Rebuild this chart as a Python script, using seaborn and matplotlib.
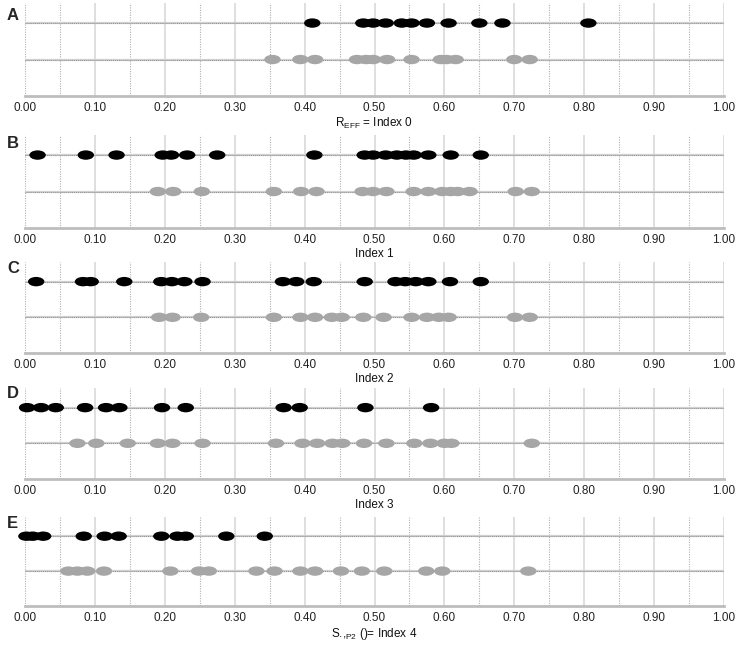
import numpy as np
import pandas as pd
import matplotlib
matplotlib.use("Agg")
import matplotlib.pyplot as plt
from matplotlib.path import Path
from matplotlib.transforms import Affine2D
import seaborn as sns

# values (position along 0..1)
a_black = [0.411, 0.484, 0.498, 0.516, 0.539, 0.553, 0.575, 0.606, 0.650, 0.683, 0.806]
a_gray = [0.354, 0.394, 0.415, 0.475, 0.488, 0.498, 0.518, 0.553, 0.595, 0.603, 0.616, 0.700, 0.722]

b_black = [0.018, 0.087, 0.131, 0.197, 0.209, 0.232, 0.275, 0.414, 0.486, 0.498, 0.516,
           0.532, 0.545, 0.556, 0.577, 0.609, 0.652]
b_gray = [0.190, 0.212, 0.253, 0.356, 0.395, 0.417, 0.483, 0.498, 0.517, 0.556, 0.577,
          0.597, 0.609, 0.619, 0.636, 0.702, 0.725]

c_black = [0.016, 0.083, 0.094, 0.142, 0.195, 0.210, 0.228, 0.254, 0.369, 0.388, 0.413,
           0.486, 0.530, 0.544, 0.559, 0.577, 0.608, 0.652]
c_gray = [0.192, 0.211, 0.252, 0.356, 0.394, 0.415, 0.439, 0.453, 0.484, 0.513, 0.553,
          0.575, 0.592, 0.606, 0.701, 0.722]

d_black = [0.003, 0.023, 0.044, 0.086, 0.116, 0.135, 0.196, 0.230, 0.370, 0.393, 0.487, 0.581]
d_gray = [0.075, 0.102, 0.147, 0.190, 0.211, 0.254, 0.359, 0.397, 0.418, 0.440, 0.454,
          0.485, 0.517, 0.557, 0.580, 0.600, 0.610, 0.725]

e_black = [0.002, 0.011, 0.026, 0.084, 0.114, 0.134, 0.195, 0.218, 0.230, 0.288, 0.343]
e_gray = [0.062, 0.075, 0.089, 0.113, 0.208, 0.249, 0.263, 0.331, 0.357, 0.394, 0.415,
          0.452, 0.482, 0.514, 0.574, 0.597, 0.720]

letters = ["A", "B", "C", "D", "E"]
xlabels = [r"$\mathregular{R_{EFF}}$ = Index 0", "Index 1", "Index 2", "Index 3",
           r"S.,$\mathregular{_{P2}}$ ()= Index 4"]
tick_vals = [0.0, 0.1, 0.2, 0.3, 0.4, 0.5, 0.6, 0.7, 0.8, 0.9, 1.0]
tick_labels = ["0.00", "0.10", "0.20", "0.30", "0.40", "0.50", "0.60", "0.70", "0.80", "0.90", "1.00"]

panels = [(a_black, a_gray), (b_black, b_gray), (c_black, c_gray), (d_black, d_gray), (e_black, e_gray)]

sns.set_style("white")
plt.rcParams["font.family"] = ["Liberation Sans", "DejaVu Sans"]

# flat ellipse marker
ellipse = Path.unit_circle().transformed(Affine2D().scale(1.75, 1.0))

fig = plt.figure(figsize=(7.39, 6.48), dpi=100)

# pixel rows of each panel (top of grid, bottom spine) and letter
tops_px = [3, 135, 262, 388, 517]
bots_px = [96, 228, 353, 479, 606]
letter_px = [15, 143, 268, 393, 523]

for i, (blk, gry) in enumerate(panels):
    b = 1 - bots_px[i] / 648
    h = (bots_px[i] - tops_px[i]) / 648
    ax = fig.add_axes([25 / 739, b, 699 / 739, h])

    df = pd.DataFrame({
        "x": blk + gry,
        "row": ["top"] * len(blk) + ["bottom"] * len(gry),
    })
    df["y"] = df["row"].map({"top": 2, "bottom": 1})

    # grid
    for v in tick_vals[1:]:
        ax.axvline(v, color="#d6d6d6", lw=1.1, zorder=0)
    for v in np.arange(0.05, 1.0, 0.1):
        ax.axvline(v, color="#b0b0b0", lw=0.8, ls=(0, (1, 1.2)), zorder=0)
    ax.axvline(0, color="#b0b0b0", lw=0.8, ls=(0, (1, 1.2)), zorder=0)
    for y in (1, 2):
        ax.axhline(y, color="#d0d0d0", lw=1.6, zorder=1)
        ax.axhline(y, color="#8e8e8e", lw=0.7, ls=(0, (1, 1)), zorder=2)

    sns.scatterplot(data=df, x="x", y="y", hue="row",
                    palette={"top": "black", "bottom": "#a6a6a6"},
                    marker=ellipse, s=140, linewidth=0, legend=False,
                    ax=ax, clip_on=False, zorder=3)

    ax.set_xlim(0, 1)
    ax.set_ylim(0, 2.55)
    ax.set_xticks(tick_vals)
    ax.set_xticklabels(tick_labels)
    ax.set_yticks([])
    ax.set_ylabel("")
    ax.set_xlabel(xlabels[i], fontsize=8.5, labelpad=2, color="#111111")
    ax.tick_params(axis="x", length=0, pad=4, labelsize=8.5, labelcolor="#222222")
    for s in ["top", "right", "left"]:
        ax.spines[s].set_visible(False)
    ax.spines["bottom"].set_color("#bdbdbd")
    ax.spines["bottom"].set_linewidth(2)

    fig.text(7 / 739, 1 - letter_px[i] / 648, letters[i], fontsize=12,
             fontweight="bold", va="center", ha="left")

fig.savefig("out.png", dpi=100)
